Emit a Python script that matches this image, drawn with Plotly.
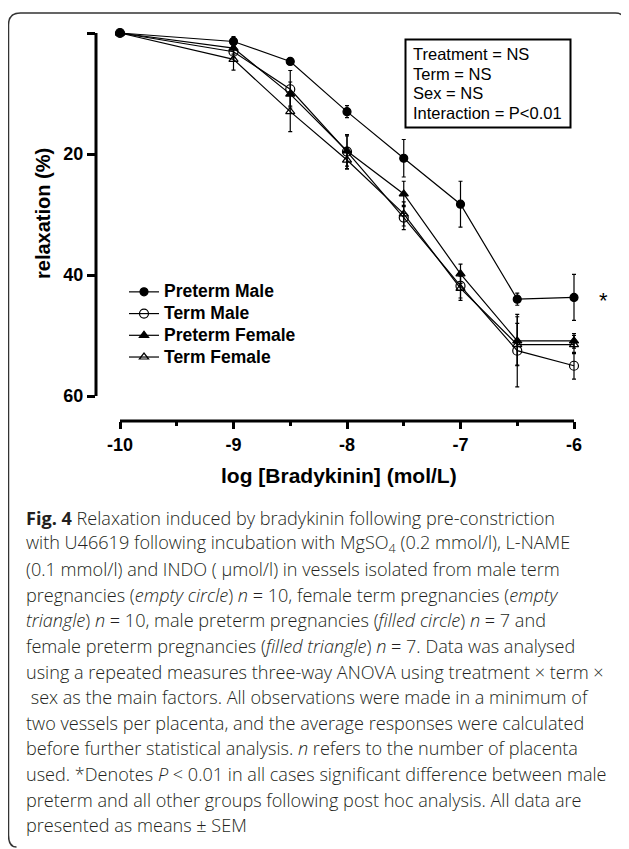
import plotly.graph_objects as go

# ---------------- data ----------------
log_conc = [-10, -9, -8.5, -8, -7.5, -7, -6.5, -6]

preterm_male = [0, 1.4, 4.7, 13.0, 20.7, 28.3, 44.0, 43.7]
preterm_male_sem = [0, 0.8, 0.5, 1.0, 3.1, 3.8, 1.0, 3.8]

term_male = [0, 3.1, 9.3, 19.6, 30.5, 41.8, 52.5, 55.0]
term_male_sem = [0, 1.0, 3.1, 2.8, 2.0, 2.0, 6.0, 2.2]

preterm_female = [0, 2.5, 10.1, 19.5, 26.6, 39.8, 50.9, 50.9]
preterm_female_sem = [0, 1.0, 2.0, 2.5, 2.1, 1.6, 4.0, 1.2]

term_female = [0, 4.35, 13.0, 21.0, 29.9, 42.2, 51.5, 51.5]
term_female_sem = [0, 1.8, 3.3, 1.5, 2.0, 2.0, 3.5, 1.5]

x_tick_vals = [-10, -9, -8, -7, -6]
x_tick_text = ["-10", "-9", "-8", "-7", "-6"]
x_minor_ticks = [-9.5, -8.5, -7.5, -6.5]
y_tick_vals = [20, 40, 60]
y_tick_text = ["20", "40", "60"]
y_unlabelled_ticks = [0]

stats_lines = ["Treatment = NS", "Term = NS", "Sex = NS", "Interaction = P<0.01"]

caption_lines = [
    "<b>Fig. 4</b> Relaxation induced by bradykinin following pre-constriction",
    "with U46619 following incubation with MgSO<sub>4</sub> (0.2 mmol/l), L-NAME",
    "(0.1 mmol/l) and INDO ( μmol/l) in vessels isolated from male term",
    "pregnancies (<i>empty circle</i>) <i>n</i> = 10, female term pregnancies (<i>empty</i>",
    "<i>triangle</i>) <i>n</i> = 10, male preterm pregnancies (<i>filled circle</i>) <i>n</i> = 7 and",
    "female preterm pregnancies (<i>filled triangle</i>) <i>n</i> = 7. Data was analysed",
    "using a repeated measures three-way ANOVA using treatment × term ×",
    " sex as the main factors. All observations were made in a minimum of",
    "two vessels per placenta, and the average responses were calculated",
    "before further statistical analysis. <i>n</i> refers to the number of placenta",
    "used. *Denotes <i>P</i> < 0.01 in all cases significant difference between male",
    "preterm and all other groups following post hoc analysis. All data are",
    "presented as means ± SEM",
]

# ---------------- layout geometry ----------------
# The page body has an 8px default margin, so the figure starts at (8, 8).
OFF = 8
W, H = 629 - OFF, 849 - OFF
# plot-area edges in page (reference) pixels
RL, RR, RT, RB = 96, 615, 20, 421
PX_PER_X = 113.5
PX_PER_Y = 6.05

x_range = [-10 - (120 - RL) / PX_PER_X, -6 + (RR - 574) / PX_PER_X]
y_range = [60 + (RB - 396) / PX_PER_Y, -(33 - RT) / PX_PER_Y]


def px_x(px):
    return (px - RL) / (RR - RL)


def px_y(py):
    return (RB - py) / (RB - RT)


FONT_BOLD = "Liberation Sans, Arial, sans-serif"

fig = go.Figure()

series = [
    ("Preterm Male", preterm_male, preterm_male_sem, "circle", 8),
    ("Term Male", term_male, term_male_sem, "circle-open", 9),
    ("Preterm Female", preterm_female, preterm_female_sem, "triangle-up", 8),
    ("Term Female", term_female, term_female_sem, "triangle-up-open", 8),
]

for name, vals, sem, sym, size in series:
    fig.add_trace(go.Scatter(
        x=log_conc, y=vals,
        name=f'<span style="font-size:17.5px">{name}</span>',
        mode="lines+markers",
        line=dict(color="black", width=1.2),
        marker=dict(symbol=sym, size=size, color="black",
                    line=dict(color="black", width=1.2)),
        error_y=dict(type="data", array=sem, visible=True,
                     color="black", thickness=1.2, width=2),
        cliponaxis=False,
    ))

fig.update_layout(
    width=W, height=H,
    margin=dict(l=RL - OFF, r=W - (RR - OFF), t=RT - OFF, b=H - (RB - OFF), pad=0),
    paper_bgcolor="white", plot_bgcolor="white",
    showlegend=True,
    legend=dict(
        x=px_x(124), y=px_y(276), xanchor="left", yanchor="top",
        font=dict(family=FONT_BOLD, size=14.4, color="black", weight="bold"),
        bgcolor="rgba(0,0,0,0)", tracegroupgap=0, itemwidth=30,
    ),
    xaxis=dict(
        range=x_range, showgrid=False, zeroline=False, showline=False,
        tickvals=x_tick_vals, ticktext=x_tick_text,
        ticks="outside", ticklen=7, tickwidth=2.5, tickcolor="black",
        minor=dict(tickvals=x_minor_ticks, ticks="outside",
                   ticklen=3.5, tickwidth=2.5, tickcolor="black"),
        tickfont=dict(family=FONT_BOLD, size=18, color="black", weight="bold"),
    ),
    yaxis=dict(
        range=y_range, showgrid=False, zeroline=False, showline=False,
        tickvals=y_tick_vals, ticktext=y_tick_text,
        ticks="outside", ticklen=8, tickwidth=2.5, tickcolor="black",
        minor=dict(tickvals=y_unlabelled_ticks, ticks="outside",
                   ticklen=8, tickwidth=2.5, tickcolor="black"),
        tickfont=dict(family=FONT_BOLD, size=18, color="black", weight="bold"),
    ),
)

shapes = []
# axis lines (GraphPad-style offset axes)
shapes.append(dict(type="line", xref="x", yref="paper", x0=-10, x1=-6, y0=0, y1=0,
                   line=dict(color="black", width=3)))
shapes.append(dict(type="line", xref="paper", yref="y", x0=0, x1=0, y0=0, y1=60,
                   line=dict(color="black", width=3)))
# stats box
shapes.append(dict(type="rect", xref="paper", yref="paper",
                   x0=px_x(405.5), x1=px_x(570.5), y0=px_y(127.5), y1=px_y(39.5),
                   line=dict(color="black", width=2)))
# figure frame (rounded bracket)
r = 12
fx0, fy0, fx1, fy1 = 8.5, 13, 627.5, 847
path = (
    f"M {px_x(fx1)} {px_y(fy0 + r + 6)} "
    f"Q {px_x(fx1)} {px_y(fy0)} {px_x(fx1 - r)} {px_y(fy0)} "
    f"L {px_x(fx0 + r)} {px_y(fy0)} "
    f"Q {px_x(fx0)} {px_y(fy0)} {px_x(fx0)} {px_y(fy0 + r)} "
    f"L {px_x(fx0)} {px_y(fy1 - r)} "
    f"Q {px_x(fx0)} {px_y(fy1)} {px_x(fx0 + 8)} {px_y(fy1)}"
)
shapes.append(dict(type="path", xref="paper", yref="paper", path=path,
                   line=dict(color="#333333", width=1.5)))
fig.update_layout(shapes=shapes)

annotations = []
# stats text
for i, t in enumerate(stats_lines):
    annotations.append(dict(
        xref="paper", yref="paper", x=px_x(411), y=px_y(54 + i * 19.7),
        xanchor="left", yanchor="middle", text=t, showarrow=False,
        font=dict(family="Liberation Sans, Arial, sans-serif", size=16.5, color="black"),
    ))
# significance asterisk
annotations.append(dict(
    xref="paper", yref="paper", x=px_x(603), y=px_y(300), text="*", showarrow=False,
    xanchor="center", yanchor="middle",
    font=dict(family="Liberation Sans, Arial, sans-serif", size=22, color="black"),
))
# axis titles
annotations.append(dict(
    xref="paper", yref="paper", x=px_x(339), y=px_y(475), text="log [Bradykinin] (mol/L)",
    showarrow=False, xanchor="center", yanchor="middle",
    font=dict(family=FONT_BOLD, size=21, color="black", weight="bold"),
))
annotations.append(dict(
    xref="paper", yref="paper", x=px_x(43), y=px_y(214), text="relaxation (%)",
    showarrow=False, xanchor="center", yanchor="middle", textangle=-90,
    font=dict(family=FONT_BOLD, size=20, color="black", weight="bold"),
))
# caption
for i, t in enumerate(caption_lines):
    annotations.append(dict(
        xref="paper", yref="paper", x=px_x(24), y=px_y(518 + i * 25.6),
        xanchor="left", yanchor="middle", text=t, showarrow=False,
        font=dict(family="Open Sans, Noto Sans, sans-serif", size=18.1, color="#231f20",
                  weight=300),
    ))
fig.update_layout(annotations=annotations)

fig.write_html("out.html")
